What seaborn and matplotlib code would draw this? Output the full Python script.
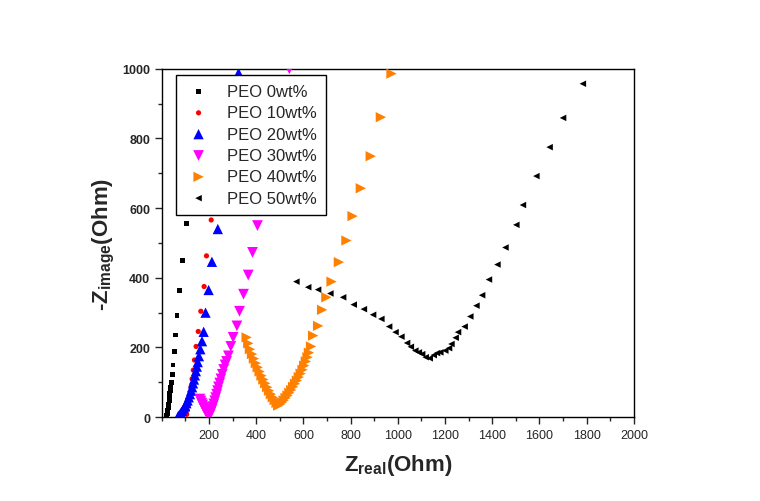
import numpy as np
import pandas as pd
import matplotlib
matplotlib.use('Agg')
import matplotlib.pyplot as plt
from matplotlib.ticker import MultipleLocator
import seaborn as sns

labels = ['PEO 0wt%', 'PEO 10wt%', 'PEO 20wt%', 'PEO 30wt%', 'PEO 40wt%', 'PEO 50wt%']
colors = ['black', 'red', 'blue', '#FF00FF', '#FF8000', 'black']
markers = ['s', 'o', '^', 'v', '>', '<']
msizes = [12, 14, 55, 60, 55, 22]

z_real_0 = [20, 21, 22, 23, 24, 25, 26, 27, 28, 29, 30, 31, 32, 33, 34, 36, 38, 39, 41, 44, 47,
            52, 57, 64, 73, 88, 106]
z_imag_0 = [1, 4, 7, 10, 14, 18, 22, 27, 32, 37, 43, 49, 55, 62, 69, 76, 84, 92, 100, 122, 150,
            189, 236, 291, 364, 449, 557]

z_real_10 = [105, 108, 112, 116, 120, 124, 128, 133, 138, 145, 154, 165, 179, 189, 209]
z_imag_10 = [8, 20, 34, 50, 68, 88, 110, 135, 164, 203, 246, 304, 375, 463, 566]

z_real_20 = [69, 74, 80, 86, 92, 98, 104, 109, 114, 119, 124, 128, 132, 136, 140, 144, 148, 152,
             157, 163, 170, 177, 185, 198, 212, 237, 325]
z_imag_20 = [3, 7, 12, 18, 25, 32, 40, 48, 57, 66, 76, 86, 97, 108, 120, 132, 145, 158,
             175, 195, 218, 245, 300, 365, 446, 540, 988]

z_real_30 = [161, 165, 169, 173, 177, 181, 185, 189, 193, 197, 200, 204, 208, 212, 216, 220, 224,
             228, 232, 236, 240, 245, 250, 256, 262, 268, 274, 282, 292, 302, 318, 329, 346, 366,
             384, 405, 540]
z_imag_30 = [52, 46, 40, 35, 29, 24, 18, 13, 9, 5, 3, 8, 15, 22, 30, 38, 47,
             56, 66, 76, 87, 98, 110, 123, 137, 150, 160, 176, 203, 229, 262, 304, 353, 408,
             473, 550, 1000]

z_real_40 = [359, 366, 373, 382, 390, 398, 406, 414, 422, 430, 438, 446, 454, 462, 470, 478, 486,
             493, 500, 508, 516, 524, 532, 540, 548, 556, 564, 572, 580, 588, 596, 603, 610, 617,
             623, 632, 641, 662, 679, 697, 719, 750, 782, 808, 843, 885, 928, 973]
z_imag_40 = [229, 212, 195, 181, 168, 155, 143, 131, 119, 108, 97, 86, 76, 66, 57, 49, 41,
             33, 37, 42, 48, 55, 62, 70, 78, 87, 96, 105, 115, 125, 136, 148, 160, 172,
             185, 203, 234, 262, 308, 344, 389, 445, 507, 577, 657, 749, 861, 986]

z_real_50 = [570, 620, 662, 714, 768, 813, 856, 895, 930, 963, 990, 1015, 1039, 1055, 1074, 1089,
             1103, 1118, 1135, 1152, 1166, 1180, 1201, 1217, 1227, 1245, 1255, 1283, 1307, 1333,
             1357, 1386, 1422, 1456, 1502, 1530, 1587, 1643, 1700, 1784]
z_imag_50 = [389, 373, 366, 355, 344, 323, 310, 294, 282, 260, 244, 231, 213, 202, 191, 186,
             181, 172, 169, 178, 184, 186, 191, 198, 210, 228, 244, 260, 289, 320,
             350, 395, 438, 487, 552, 609, 692, 775, 859, 957]

xs = [z_real_0, z_real_10, z_real_20, z_real_30, z_real_40, z_real_50]
ys = [z_imag_0, z_imag_10, z_imag_20, z_imag_30, z_imag_40, z_imag_50]

df = pd.concat([pd.DataFrame({'zr': x, 'zi': y, 'sample': lab}) for x, y, lab in zip(xs, ys, labels)])

sns.set_style('ticks')
plt.rcParams['font.family'] = ['Liberation Sans', 'DejaVu Sans']
plt.rcParams['mathtext.fontset'] = 'custom'
plt.rcParams['mathtext.rm'] = 'Liberation Sans'
plt.rcParams['mathtext.bf'] = 'Liberation Sans:bold'

fig = plt.figure(figsize=(7.6, 5.02), dpi=100)
ax = fig.add_axes([0.213, 0.167, 0.621, 0.694])

for lab, c, m, s in zip(labels, colors, markers, msizes):
    sub = df[df['sample'] == lab]
    sns.scatterplot(data=sub, x='zr', y='zi', color=c, marker=m, s=s,
                    edgecolor='none', linewidth=0, label=lab, ax=ax, zorder=3)

ax.set_xlim(0, 2000)
ax.set_ylim(0, 1000)
ax.set_xticks(range(200, 2001, 200))
ax.set_yticks(range(0, 1001, 200))
ax.xaxis.set_minor_locator(MultipleLocator(100))
ax.yaxis.set_minor_locator(MultipleLocator(100))
ax.tick_params(which='major', direction='out', length=5, width=1, labelsize=9, top=False, right=False)
ax.tick_params(which='minor', direction='out', length=3, width=1, top=False, right=False)
for t in ax.get_yticklabels():
    t.set_fontweight('bold')
for sp in ax.spines.values():
    sp.set_visible(True)
    sp.set_linewidth(1)
    sp.set_color('black')

ax.set_xlabel(r'$\mathbf{Z_{real}}$(Ohm)', fontsize=16, fontweight='bold', labelpad=8)
ax.set_ylabel(r'-$\mathbf{Z_{image}}$(Ohm)', fontsize=16, fontweight='bold', labelpad=4)

leg = ax.legend(loc='upper left', bbox_to_anchor=(0.03, 0.983), fontsize=12, frameon=True,
                fancybox=False, edgecolor='black', handletextpad=0.9, labelspacing=0.38,
                borderpad=0.55, handlelength=1.6, borderaxespad=0, markerscale=1.0)
leg.get_frame().set_linewidth(1)
leg.get_frame().set_alpha(1)

fig.savefig('out.png', dpi=100)
